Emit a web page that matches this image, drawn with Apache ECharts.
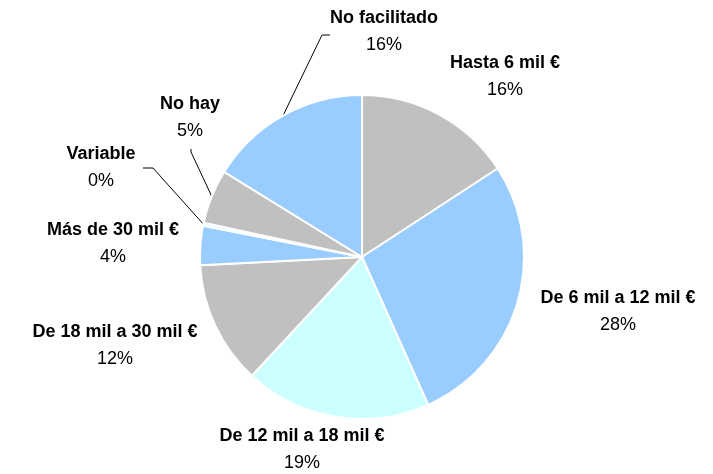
<!DOCTYPE html>
<html>
<head>
<meta charset="utf-8">
<script src="https://cdn.jsdelivr.net/npm/echarts@6/dist/echarts.min.js"></script>
<style>
  html, body { margin: 0; padding: 0; background: #fff; }
  #chart { width: 713px; height: 474px; }
</style>
</head>
<body>
<div id="chart"></div>
<script>
// slices, clockwise from 12 o'clock
const categories = ['Hasta 6 mil €', 'De 6 mil a 12 mil €', 'De 12 mil a 18 mil €', 'De 18 mil a 30 mil €',
  'Más de 30 mil €', 'Variable', 'No hay', 'No facilitado']
const values = [15.8, 27.5, 18.6, 12.3, 3.9, 0.3, 5.4, 16.2]
const colors = ['#c0c0c0', '#99ccff', '#ccffff', '#c0c0c0', '#99ccff', '#ccffff', '#c0c0c0', '#99ccff']

// label block centres + optional leader line (elbow, end)
const labelPos = [
  [505, 77], [618, 312], [302, 450], [115, 346],
  [113, 244], [101, 168], [190, 118], [384, 32]
]
const leaders = {
  5: [[153, 168], [143, 168]],
  6: [[191, 152], [191, 149]],
  7: [[322, 35], [330, 35]]
}

const chart = echarts.init(document.getElementById('chart'))
chart.setOption({
  backgroundColor: '#fff',
  animation: false,
  textStyle: { fontFamily: 'Liberation Sans, Arial, sans-serif' },
  series: [{
    type: 'pie',
    center: [362, 257],
    radius: 162,
    startAngle: 90,
    clockwise: true,
    avoidLabelOverlap: false,
    itemStyle: { borderColor: '#fff', borderWidth: 2 },
    label: {
      position: 'outside',
      formatter: p => '{n|' + p.name + '}\n{p|' + Math.round(p.percent) + '%}',
      rich: {
        n: { fontWeight: 'bold', fontSize: 18, color: '#000', lineHeight: 27, align: 'center', fontFamily: 'Liberation Sans' },
        p: { fontSize: 18, color: '#000', lineHeight: 27, align: 'center', fontFamily: 'Liberation Sans' }
      }
    },
    labelLine: { show: false, lineStyle: { color: '#000', width: 1 } },
    labelLayout: params => {
      const i = params.dataIndex
      const out = { x: labelPos[i][0], y: labelPos[i][1], align: 'center', verticalAlign: 'middle' }
      if (leaders[i] && params.labelLinePoints) {
        out.labelLinePoints = [params.labelLinePoints[0], leaders[i][0], leaders[i][1]]
      }
      return out
    },
    data: categories.map((name, i) => ({
      name: name,
      value: values[i],
      itemStyle: { color: colors[i] },
      labelLine: { show: !!leaders[i], smooth: false, length: 10, length2: 10 }
    }))
  }]
})
</script>
</body>
</html>
